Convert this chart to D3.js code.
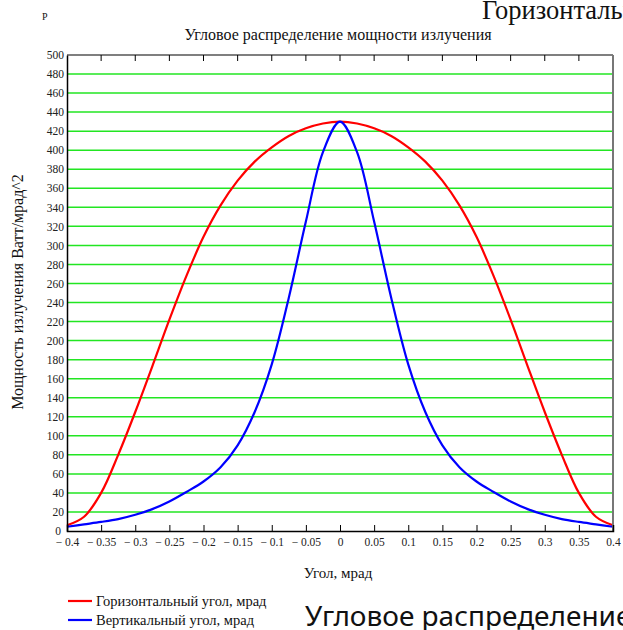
<!DOCTYPE html>
<html>
<head>
<meta charset="utf-8">
<script src="https://cdn.jsdelivr.net/npm/d3@7"></script>
<style>
  html, body { margin: 0; padding: 0; background: #fff; overflow: hidden; }
  svg { display: block; }
  svg text { font-family: "Liberation Serif", "Times New Roman", serif; }
  svg text.sans { font-family: "Noto Sans", "Open Sans", sans-serif; }
</style>
</head>
<body>
<svg id="chart" width="623" height="630"></svg>
<script>
// Angle grid, mrad
const angles = [-0.4, -0.375, -0.35, -0.325, -0.3, -0.275, -0.25, -0.225, -0.2, -0.175, -0.15, -0.125, -0.1, -0.075, -0.05, -0.025,
  0, 0.025, 0.05, 0.075, 0.1, 0.125, 0.15, 0.175, 0.2, 0.225, 0.25, 0.275, 0.3, 0.325, 0.35, 0.375, 0.4];

// Power density, W/mrad^2 — horizontal angle
const horizontal = [6, 15, 40, 80, 125, 173, 222, 268, 309, 342, 368, 388, 403, 415, 423, 428,
  430, 428, 423, 415, 403, 388, 368, 342, 309, 268, 222, 173, 125, 80, 40, 15, 6];

// Power density, W/mrad^2 — vertical angle
const vertical = [4.5, 7, 9.5, 12.5, 17, 23, 31, 41, 52, 67, 90, 125, 175, 245, 325, 398,
  430, 398, 325, 245, 175, 125, 90, 67, 52, 41, 31, 23, 17, 12.5, 9.5, 7, 4.5];

const xTicks = [-0.4, -0.35, -0.3, -0.25, -0.2, -0.15, -0.1, -0.05, 0, 0.05, 0.1, 0.15, 0.2, 0.25, 0.3, 0.35, 0.4];
const yTicks = d3.range(0, 501, 20);

const seriesNames = ["Горизонтальный угол, мрад", "Вертикальный угол, мрад"];
const seriesColors = ["#ff0000", "#0000ff"];

const svg = d3.select("#chart");
const plot = { left: 67, right: 613, top: 55, bottom: 531 };

const x = d3.scaleLinear().domain([-0.4, 0.4]).range([plot.left, plot.right]);
const y = d3.scaleLinear().domain([0, 500]).range([plot.bottom, plot.top]);

const fmtX = v => {
  if (v === 0) return "0";
  const s = d3.format("")(Math.abs(+v.toFixed(2)));
  return v < 0 ? "\u2212 " + s : s;
};

// Horizontal grid
svg.append("g")
  .selectAll("line")
  .data(yTicks.filter(v => v > 0 && v < 500))
  .join("line")
  .attr("x1", plot.left).attr("x2", plot.right)
  .attr("y1", d => y(d)).attr("y2", d => y(d))
  .attr("stroke", "#22e622")
  .attr("stroke-width", 1.5);

// Curves
const line = d3.line()
  .x((d, i) => x(angles[i]))
  .y(d => y(d))
  .curve(d3.curveCatmullRom.alpha(0.5));

[horizontal, vertical].forEach((vals, k) => {
  svg.append("path")
    .datum(vals)
    .attr("d", line)
    .attr("fill", "none")
    .attr("stroke", seriesColors[k])
    .attr("stroke-width", 2.2);
});

// Frame: top and right edges
svg.append("line")
  .attr("x1", plot.left).attr("x2", plot.right)
  .attr("y1", plot.top).attr("y2", plot.top)
  .attr("stroke", "#000").attr("stroke-width", 1.2);
svg.append("line")
  .attr("x1", plot.right).attr("x2", plot.right)
  .attr("y1", plot.top).attr("y2", plot.bottom)
  .attr("stroke", "#777").attr("stroke-width", 2);

// Bottom axis with inward ticks
const xAxis = d3.axisBottom(x).tickValues(xTicks).tickSize(-6).tickFormat(fmtX).tickPadding(7);
const gx = svg.append("g").attr("transform", `translate(0,${plot.bottom})`).call(xAxis);
gx.attr("font-family", null);
gx.select(".domain").attr("stroke", "#000").attr("stroke-width", 1.5);
gx.selectAll(".tick line").attr("stroke", "#000");
gx.selectAll("text").attr("font-size", 11.5).attr("fill", "#222");

// Ticks along the top edge, pointing inward
svg.append("g")
  .selectAll("line")
  .data(xTicks.slice(1, -1))
  .join("line")
  .attr("x1", d => x(d)).attr("x2", d => x(d))
  .attr("y1", plot.top).attr("y2", plot.top + 6)
  .attr("stroke", "#000");

// Left axis
const yAxis = d3.axisLeft(y).tickValues(yTicks).tickSize(0).tickPadding(3);
const gy = svg.append("g").attr("transform", `translate(${plot.left},0)`).call(yAxis);
gy.attr("font-family", null);
gy.select(".domain").attr("stroke", "#000").attr("stroke-width", 1.5);
gy.selectAll("text").attr("font-size", 11.5).attr("fill", "#222");
gy.selectAll(".tick").filter(d => d === 0).select("text").attr("dy", "0.3em").attr("x", -6);

// Titles and axis labels
svg.append("text")
  .attr("x", 338).attr("y", 40).attr("text-anchor", "middle")
  .attr("font-size", 16).attr("fill", "#111")
  .text("Угловое распределение мощности излучения");

svg.append("text")
  .attr("x", 42).attr("y", 20).attr("font-size", 10).attr("fill", "#111")
  .text("P");

svg.append("text")
  .attr("x", 482).attr("y", 19).attr("font-size", 26.5).attr("fill", "#111")
  .text("Горизонтальный угол");

svg.append("text")
  .attr("transform", "translate(23,292) rotate(-90)")
  .attr("text-anchor", "middle").attr("font-size", 16).attr("fill", "#111")
  .text("Мощность излучения Ватт/мрад^2");

svg.append("text")
  .attr("x", 338).attr("y", 578).attr("text-anchor", "middle")
  .attr("font-size", 15).attr("fill", "#111")
  .text("Угол, мрад");

// Legend
const legend = svg.append("g").selectAll("g")
  .data(seriesNames)
  .join("g")
  .attr("transform", (d, i) => `translate(68,${601 + i * 19})`);
legend.append("line")
  .attr("x1", 0).attr("x2", 24).attr("y1", 0).attr("y2", 0)
  .attr("stroke", (d, i) => seriesColors[i]).attr("stroke-width", 2.2);
legend.append("text")
  .attr("x", 28).attr("y", 4.5).attr("font-size", 14.5).attr("fill", "#111")
  .text(d => d);

svg.append("text").attr("class", "sans")
  .attr("x", 305).attr("y", 626)
  .attr("font-size", 28).attr("fill", "#111")
  .text("Угловое распределение мощности");
</script>
</body>
</html>
